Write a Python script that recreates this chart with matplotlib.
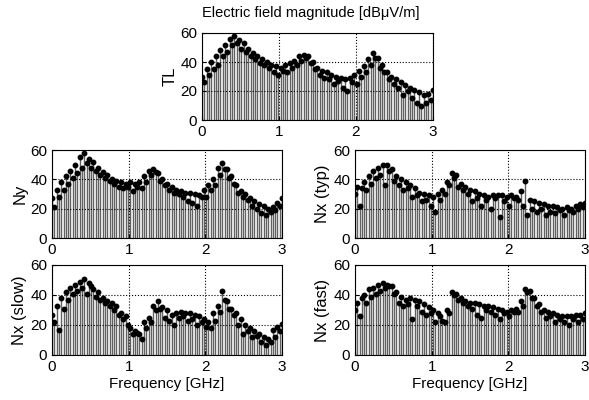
import numpy as np
import matplotlib
matplotlib.use("Agg")
import matplotlib.pyplot as plt

plt.rcParams['font.family'] = ['Liberation Sans', 'DejaVu Sans']

# frequency grid [GHz]
freq = np.round(np.arange(0, 101) * 0.03, 2)

tl = [30, 26, 35, 31, 40, 35, 44, 38, 48, 44,
      52, 47, 56, 52, 58, 53, 55, 49, 53, 47,
      49, 44, 46, 42, 44, 39, 42, 38, 40, 36,
      38, 33, 37, 31, 36, 34, 38, 33, 39, 36,
      41, 38, 44, 41, 45, 43, 44, 39, 40, 35,
      36, 31, 34, 29, 33, 28, 31, 25, 30, 27,
      29, 22, 28, 20, 29, 26, 31, 25, 34, 30,
      37, 33, 42, 38, 46, 43, 43, 36, 38, 33,
      33, 28, 30, 25, 28, 22, 26, 17, 24, 20,
      22, 15, 21, 12, 19, 10, 17, 12, 18, 14,
      21]

ny = [27, 21, 33, 28, 38, 33, 42, 37, 46, 41,
      50, 44, 55, 48, 58, 51, 54, 48, 52, 46,
      48, 43, 45, 41, 43, 39, 40, 37, 39, 35,
      38, 34, 37, 35, 38, 32, 37, 35, 38, 34,
      42, 38, 46, 43, 47, 45, 44, 39, 40, 36,
      37, 33, 35, 31, 33, 30, 32, 28, 31, 25,
      31, 24, 30, 22, 29, 28, 33, 28, 36, 33,
      40, 36, 48, 43, 51, 47, 47, 41, 42, 37,
      36, 31, 32, 28, 30, 26, 27, 22, 25, 20,
      23, 17, 22, 16, 20, 18, 21, 19, 24, 22,
      27]

nx_typ = [30, 35, 22, 34, 38, 33, 42, 37, 46, 41,
          48, 43, 50, 36, 50, 46, 47, 39, 42, 36,
          40, 33, 38, 34, 36, 28, 34, 29, 31, 25,
          30, 26, 29, 22, 28, 18, 30, 26, 33, 30,
          38, 36, 44, 41, 43, 35, 37, 33, 35, 30,
          33, 25, 32, 27, 30, 22, 29, 26, 28, 20,
          29, 27, 29, 14, 29, 25, 28, 22, 29, 27,
          28, 26, 32, 22, 39, 16, 26, 20, 25, 18,
          24, 20, 23, 16, 22, 18, 22, 17, 21, 19,
          20, 16, 21, 19, 20, 18, 22, 20, 23, 21,
          24]

nx_slow = [27, 22, 33, 17, 38, 31, 42, 37, 45, 41,
           47, 43, 49, 45, 51, 41, 48, 46, 44, 39,
           42, 37, 38, 35, 36, 33, 35, 30, 33, 27,
           28, 24, 26, 20, 18, 14, 16, 15, 14, 11,
           22, 18, 25, 22, 33, 30, 36, 31, 32, 25,
           30, 23, 27, 20, 28, 25, 29, 26, 28, 23,
           28, 24, 27, 20, 26, 22, 24, 19, 22, 18,
           28, 23, 33, 29, 43, 37, 36, 31, 31, 27,
           28, 20, 24, 14, 20, 16, 18, 12, 16, 13,
           14, 9, 12, 7, 11, 9, 17, 12, 19, 16,
           21]

nx_fast = [30, 35, 26, 38, 40, 35, 44, 39, 45, 41,
           47, 43, 48, 45, 47, 46, 46, 41, 42, 35,
           39, 33, 37, 34, 38, 24, 37, 33, 36, 29,
           34, 27, 32, 28, 30, 22, 28, 26, 23, 22,
           30, 28, 42, 40, 41, 37, 38, 35, 36, 33,
           35, 31, 35, 27, 34, 25, 33, 30, 33, 29,
           32, 27, 31, 24, 30, 28, 29, 26, 30, 29,
           31, 29, 36, 33, 44, 42, 43, 38, 38, 33,
           34, 29, 30, 25, 29, 26, 28, 22, 27, 24,
           26, 22, 26, 20, 26, 24, 27, 22, 27, 24,
           28]

panels = [
    ("TL", tl, [0.343, 0.700, 0.392, 0.2175], False),
    ("Ny", ny, [0.0883, 0.405, 0.3905, 0.22], False),
    ("Nx (typ)", nx_typ, [0.6027, 0.405, 0.3905, 0.22], False),
    ("Nx (slow)", nx_slow, [0.0883, 0.1125, 0.3905, 0.225], True),
    ("Nx (fast)", nx_fast, [0.6027, 0.1125, 0.3905, 0.225], True),
]

fig = plt.figure(figsize=(5.89, 4.0), dpi=100)

for name, vals, pos, bottom in panels:
    ax = fig.add_axes(pos)
    ml, sl, bl = ax.stem(freq, vals, basefmt=' ')
    plt.setp(sl, color='0.38', linewidth=1.0)
    plt.setp(ml, color='black', marker='o', markersize=3.2)
    ax.set_xlim(0, 3)
    ax.set_ylim(0, 60)
    ax.set_xticks([0, 1, 2, 3])
    ax.set_yticks([0, 20, 40, 60])
    ax.grid(True, linestyle=':', color='black', linewidth=0.8)
    ax.set_axisbelow(False)
    ax.tick_params(direction='in', labelsize=11, length=3)
    ax.set_ylabel(name, fontsize=12, labelpad=2)
    for s in ax.spines.values():
        s.set_linewidth(0.8)
    if bottom:
        ax.set_xlabel("Frequency [GHz]", fontsize=11, labelpad=2)

fig.text(0.527, 0.968, "Electric field magnitude [dBμV/m]", ha='center', va='center', fontsize=10.5)

fig.savefig("out.png", dpi=100)
